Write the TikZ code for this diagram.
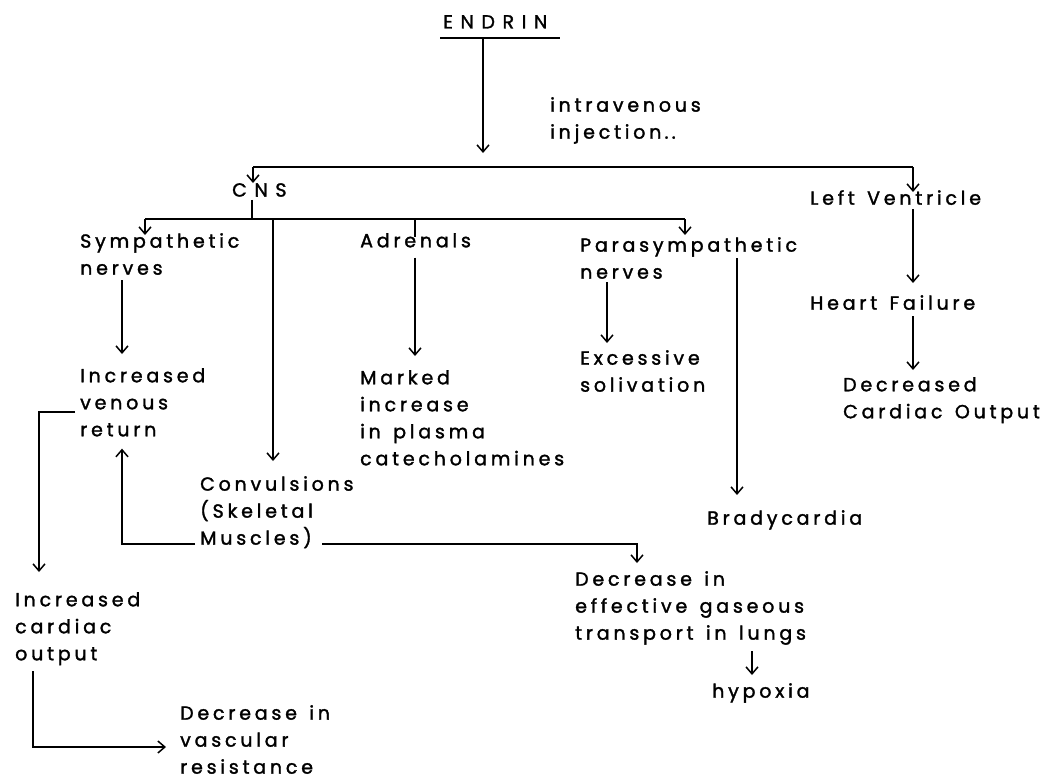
\documentclass[tikz,border=0pt]{standalone}
\usepackage{fontspec}
\setmainfont{Poppins}[LetterSpace=20, FakeBold=1.6, WordSpace=1.4]
\usetikzlibrary{arrows.meta,calc}
\begin{document}
\begin{tikzpicture}[x=1pt,y=-1pt,
  txt/.style={anchor=north west, inner sep=0pt, align=left, font=\fontsize{19}{27}\selectfont},
  wide/.style={font=\fontsize{19}{27}\selectfont\addfontfeature{LetterSpace=40}},
  ln/.style={line width=1.8pt},
  arr/.style={ln, -{Straight Barb[length=7pt,width=12pt,line width=1.5pt]}}]
\path[use as bounding box, fill=white] (0,0) rectangle (1056,780);

% text nodes
\node[txt, wide] (endrin) at (443,15) {ENDRIN};
\node[txt] (iv) at (550,97) {intravenous\\injection\,.\,.};
\node[txt, wide] (cns) at (232,183) {CNS};
\node[txt] (symp) at (80,233) {Sympathetic\\nerves};
\node[txt] (adren) at (360,233) {Adrenals};
\node[txt] (para) at (580,237) {Parasympathetic\\nerves};
\node[txt] (lv) at (810,190) {Left Ventricle};
\node[txt] (incven) at (80,368) {Increased\\venous\\return};
\node[txt] (marked) at (360,370) {Marked\\increase\\in plasma\\catecholamines};
\node[txt] (exc) at (580,350) {Excessive\\solivation};
\node[txt] (hf) at (810,295) {Heart Failure};
\node[txt] (dco) at (843,377) {Decreased\\Cardiac Output};
\node[txt] (conv) at (200,476) {Convulsions\\(Skeletal\\Muscles)};
\node[txt] (brady) at (707,510) {Bradycardia};
\node[txt] (gas) at (575,571) {Decrease in\\effective gaseous\\transport in lungs};
\node[txt] (hyp) at (712,683) {hypoxia};
\node[txt] (inccard) at (15,592) {Increased\\cardiac\\output};
\node[txt] (vasc) at (180,705) {Decrease in\\vascular\\resistance};

% junction coordinates
\coordinate (ulL) at (440,38);
\coordinate (ulR) at (560,38);
\coordinate (ulM) at (483,38);
\coordinate (b1tip) at (483,153);
\coordinate (b1L) at (253,167);
\coordinate (b1R) at (913,167);
\coordinate (cnsx) at (252,0);
\coordinate (b2L) at (145,219);
\coordinate (b2R) at (685,219);
\coordinate (b2S) at (252,219);
\coordinate (convx) at (273,219);
\coordinate (adrx) at (415,219);
\coordinate (sympx) at (122,0);
\coordinate (parax) at (607,0);
\coordinate (brtop) at (737,258);
\coordinate (lvx) at (913,0);
\coordinate (musL) at (195,544);
\coordinate (musR) at (322,544);
\coordinate (gasx) at (637,0);
\coordinate (venL) at (75,412);
\coordinate (x40) at (39,0);
\coordinate (x33) at (33,0);
\coordinate (y748) at (0,747);
\coordinate (hypx) at (752,0);

% ENDRIN underline and arrow
\draw[ln] (ulL) -- (ulR);
\draw[arr] (ulM) -- (b1tip);
% first branching bar
\draw[ln] (b1L) -- (b1R);
\draw[arr] (b1L) -- (cns.north -| b1L);
\draw[arr] (b1R) -- ([yshift=-2pt]lv.north -| b1R);
% CNS stem and second bar
\draw[ln] ([yshift=-3pt]cns.south -| cnsx) -- (b2S);
\draw[ln] (b2L) -- (b2R);
\draw[arr] (b2L) -- ([yshift=-2pt]symp.north -| b2L);
\draw[arr] (b2R) -- ([yshift=2pt]para.north -| b2R);
\draw[ln] (adrx) -- ([yshift=-4pt]adren.north -| adrx);
\draw[arr, shorten >=15pt] (convx) -- (conv.north -| convx);
% vertical chains
\draw[arr, shorten <=5pt, shorten >=14pt] (symp.south -| sympx) -- (incven.north -| sympx);
\draw[arr, shorten <=10pt, shorten >=14pt] (adren.south -| adrx) -- (marked.north -| adrx);
\draw[arr, shorten <=3pt, shorten >=7pt] (para.south -| parax) -- (exc.north -| parax);
\draw[arr, shorten >=15pt] (brtop) -- (brady.north -| brtop);
\draw[arr, shorten <=4pt, shorten >=12pt] (lv.south -| lvx) -- (hf.north -| lvx);
\draw[arr, shorten <=6pt, shorten >=7pt] (hf.south -| lvx) -- (dco.north -| lvx);
% convulsions feedback
\draw[arr, shorten >=12pt] (musL) -| (incven.south -| sympx);
\draw[arr, shorten >=8pt] (musR) -| (gas.north -| gasx);
% venous return to cardiac output
\draw[arr, shorten >=20pt] (venL) -| (inccard.north -| x40);
\draw[arr, shorten <=6pt, shorten >=14pt] (inccard.south -| x33) |- (vasc.west |- y748);
% lungs to hypoxia
\draw[arr, shorten <=6pt, shorten >=8pt] (gas.south -| hypx) -- (hyp.north -| hypx);
\end{tikzpicture}
\end{document}
